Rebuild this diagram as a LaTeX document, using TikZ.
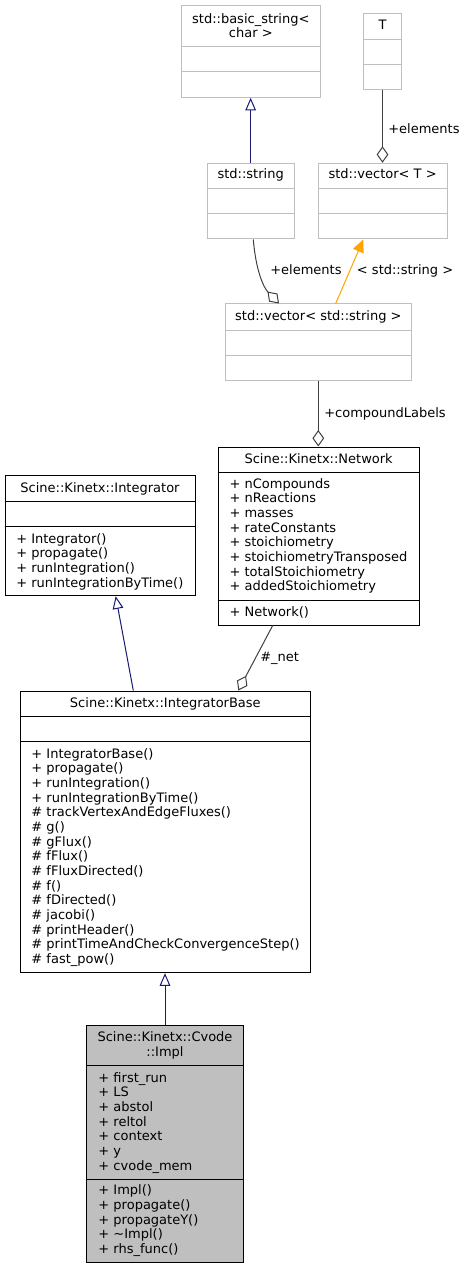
\documentclass[tikz,border=0pt]{standalone}
\usepackage{fontspec}
\setmainfont{DejaVu Sans}
\usetikzlibrary{arrows.meta,fit,calc}
\definecolor{navyline}{HTML}{191970}
\definecolor{greyline}{HTML}{404040}
\definecolor{boxgrey}{HTML}{BFBFBF}
\definecolor{orangeline}{HTML}{FFA500}
\newcommand\lstrut{\rule{0pt}{0.76em}}
\begin{document}
\begin{tikzpicture}[x=0.75pt,y=-0.75pt,
  font=\fontsize{9.75}{11}\selectfont,
  cls/.style={draw=black, line width=0.75pt, inner sep=0pt, fill=white},
  clsg/.style={draw=boxgrey, line width=0.75pt, inner sep=0pt, fill=white},
  clsf/.style={draw=black, line width=0.75pt, inner sep=0pt, fill=boxgrey},
  sepb/.style={draw=black, line width=0.75pt},
  sepg/.style={draw=boxgrey, line width=0.75pt},
  ttl/.style={anchor=north, inner sep=0pt, align=center},
  mem/.style={anchor=north west, inner sep=0pt, align=left},
  lbl/.style={anchor=base west, inner sep=0pt},
  inh/.style={draw=navyline, line width=0.75pt, -{Triangle[open, length=9.5pt, width=8pt]}},
  agg/.style={draw=greyline, line width=0.75pt, -{Diamond[open, length=12.4pt, width=8.8pt]}},
  tmpl/.style={draw=orangeline, line width=0.75pt, -{Triangle[length=9.5pt, width=8.5pt]}},
]
\useasboundingbox (0,0) rectangle (465,1269);

% ---------- std::basic_string<char> ----------
\node[clsg, fit={(181.7,6) (320,97.3)}] (bstr) {};
\draw[sepg] (bstr.west |- 0,46.7) -- (bstr.east |- 0,46.7);
\draw[sepg] (bstr.west |- 0,71.7) -- (bstr.east |- 0,71.7);
\node[ttl] (bstrT) at (250.8,13.1) {\lstrut std::basic\_string<\\char >};

% ---------- T ----------
\node[clsg, fit={(363.3,14) (401.7,89.3)}] (tcls) {};
\draw[sepg] (tcls.west |- 0,39.3) -- (tcls.east |- 0,39.3);
\draw[sepg] (tcls.west |- 0,64.3) -- (tcls.east |- 0,64.3);
\node[ttl] (tclsT) at (382.5,19.8) {\lstrut T};

% ---------- std::string ----------
\node[clsg, fit={(207.3,163.3) (294,239)}] (str) {};
\draw[sepg] (str.west |- 0,189) -- (str.east |- 0,189);
\draw[sepg] (str.west |- 0,214) -- (str.east |- 0,214);
\node[ttl] (strT) at (250.65,168.8) {\lstrut std::string};

% ---------- std::vector<T> ----------
\node[clsg, fit={(318,163.3) (447.3,239)}] (vect) {};
\draw[sepg] (vect.west |- 0,189) -- (vect.east |- 0,189);
\draw[sepg] (vect.west |- 0,214) -- (vect.east |- 0,214);
\node[ttl] (vectT) at (382.65,168.8) {\lstrut std::vector< T >};

% ---------- std::vector<std::string> ----------
\node[clsg, fit={(225,304) (411.7,380.5)}] (vecs) {};
\draw[sepg] (vecs.west |- 0,330) -- (vecs.east |- 0,330);
\draw[sepg] (vecs.west |- 0,355.3) -- (vecs.east |- 0,355.3);
\node[ttl] (vecsT) at (318.35,310.5) {\lstrut std::vector< std::string >};

% ---------- Scine::Kinetx::Integrator ----------
\node[cls, fit={(5,475.7) (195,595.7)}] (integ) {};
\draw[sepb] (integ.west |- 0,501.3) -- (integ.east |- 0,501.3);
\draw[sepb] (integ.west |- 0,526.7) -- (integ.east |- 0,526.7);
\node[ttl] (integT) at (100,482.5) {\lstrut Scine::Kinetx::Integrator};
\node[mem] (integM) at (16,533.1) {\lstrut + Integrator()\\+ propagate()\\+ runIntegration()\\+ runIntegrationByTime()};

% ---------- Scine::Kinetx::Network ----------
\node[cls, fit={(218.3,447) (419,625)}] (net) {};
\draw[sepb] (net.west |- 0,472.3) -- (net.east |- 0,472.3);
\draw[sepb] (net.west |- 0,600.3) -- (net.east |- 0,600.3);
\node[ttl] (netT) at (318.65,453.1) {\lstrut Scine::Kinetx::Network};
\node[mem] (netA) at (229.3,478.1) {\lstrut + nCompounds\\+ nReactions\\+ masses\\+ rateConstants\\+ stoichiometry\\+ stoichiometryTransposed\\+ totalStoichiometry\\+ addedStoichiometry};
\node[mem] (netM) at (229.3,606.5) {\lstrut + Network()};

% ---------- Scine::Kinetx::IntegratorBase ----------
\node[cls, fit={(20.7,691) (310,972.7)}] (ib) {};
\draw[sepb] (ib.west |- 0,716) -- (ib.east |- 0,716);
\draw[sepb] (ib.west |- 0,741.7) -- (ib.east |- 0,741.7);
\node[ttl] (ibT) at (165.35,697.5) {\lstrut Scine::Kinetx::IntegratorBase};
\node[mem] (ibM) at (31.2,748.1) {\lstrut + IntegratorBase()\\+ propagate()\\+ runIntegration()\\+ runIntegrationByTime()\\\# trackVertexAndEdgeFluxes()\\\# g()\\\# gFlux()\\\# fFlux()\\\# fFluxDirected()\\\# f()\\\# fDirected()\\\# jacobi()\\\# printHeader()\\\# printTimeAndCheckConvergenceStep()\\\# fast\_pow()};

% ---------- Scine::Kinetx::Cvode::Impl ----------
\node[clsf, fit={(86.7,1025.7) (243.3,1262.7)}] (impl) {};
\draw[sepb] (impl.west |- 0,1065.7) -- (impl.east |- 0,1065.7);
\draw[sepb] (impl.west |- 0,1179) -- (impl.east |- 0,1179);
\node[ttl] (implT) at (165,1031.5) {\lstrut Scine::Kinetx::Cvode\\::Impl};
\node[mem] (implA) at (98.2,1072.1) {\lstrut + first\_run\\+ LS\\+ abstol\\+ reltol\\+ context\\+ y\\+ cvode\_mem};
\node[mem] (implM) at (98.2,1184.8) {\lstrut + Impl()\\+ propagate()\\+ propagateY()\\+ \textasciitilde Impl()\\+ rhs\_func()};

% ---------- connectors ----------
\draw[inh] (str.north) -- (str.north |- bstr.south);
\draw[agg] (tcls.south) -- (tcls.south |- vect.north);
\node[lbl] (l1) at (388,133.5) {+elements};
\draw[agg] (str.south -| 253.3,0) .. controls (256,272) and (264,288) .. (vecs.north -| 279,0);
\node[lbl] (l2) at (270,274.5) {+elements};
\draw[tmpl] (vecs.north -| 335.7,0) -- (vect.south -| 363.3,0);
\node[lbl] (l3) at (356.7,274.5) {< std::string >};
\draw[agg] (vecs.south -| 318.3,0) -- (net.north -| 318.3,0);
\node[lbl] (l4) at (324,417) {+compoundLabels};
\draw[inh] (ib.north -| 133.3,0) -- (integ.south -| 115.7,0);
\draw[agg] (net.south -| 272.7,0) -- (ib.north -| 238.3,0);
\node[lbl] (l5) at (260,661.5) {\#\_net};
\draw[inh] (impl.north) -- (impl.north |- ib.south);
\end{tikzpicture}
\end{document}
